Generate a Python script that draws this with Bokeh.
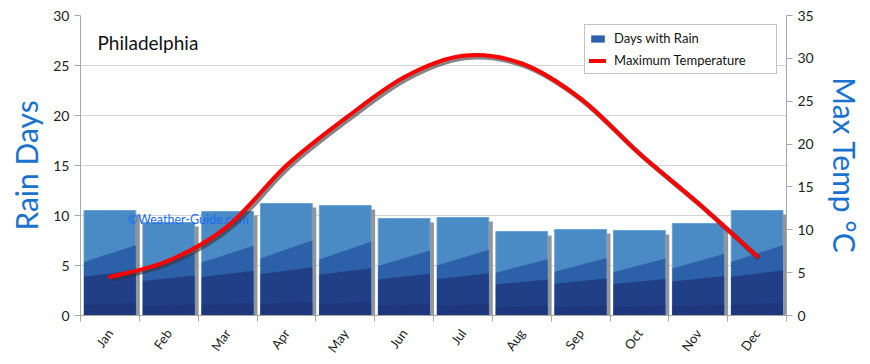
import math
from bokeh.plotting import figure
from bokeh.models import (Range1d, LinearAxis, FixedTicker, Label, Legend, LegendItem)
from bokeh.core.properties import value
from bokeh.embed import file_html
from bokeh.resources import INLINE

months = ["Jan", "Feb", "Mar", "Apr", "May", "Jun", "Jul", "Aug", "Sep", "Oct", "Nov", "Dec"]
rain_days = [10.5, 9.3, 10.4, 11.2, 11.0, 9.7, 9.8, 8.4, 8.6, 8.5, 9.2, 10.5]
max_temp = [4.5, 6.4, 10.4, 17.5, 23.0, 27.8, 30.3, 29.4, 25.3, 18.9, 13.1, 6.9]
rain_ticks = [0, 5, 10, 15, 20, 25, 30]
temp_ticks = [0, 5, 10, 15, 20, 25, 30, 35]

FONT = "Lato"
n = len(months)
xc = [i + 0.5 for i in range(n)]

p = figure(frame_width=706, frame_height=300, output_backend="svg", toolbar_location=None,
           x_range=Range1d(0, n), y_range=Range1d(0, 30),
           min_border_left=80, min_border_right=76, min_border_top=15, min_border_bottom=41)
p.extra_y_ranges = {"temp": Range1d(0, 35)}
p.outline_line_color = None
p.background_fill_color = "white"
p.border_fill_color = "white"

# grid
p.xgrid.grid_line_color = None
p.ygrid.grid_line_color = "#d4d4d4"
p.ygrid.ticker = FixedTicker(ticks=rain_ticks)

# bars
bw = 0.88
left = [x - bw / 2 for x in xc]
right = [x + bw / 2 for x in xc]
sx = 4 / 58.8   # shadow offset, x units
sy = 4 / 10.0   # shadow offset, y units
p.quad(left=[l + sx for l in left], right=[r + sx for r in right], bottom=0,
       top=[v - sy for v in rain_days], fill_color="#8a8a8a", line_color=None, fill_alpha=0.9)
bars = p.quad(left=left, right=right, bottom=0, top=rain_days,
              fill_color="#4a8ac5", line_color="#6aa2d4", line_width=1)
# shading bands
band_xs = [[l, r, r, l] for l, r in zip(left, right)]
mid_ys = [[0, 0, 0.67 * v, 0.51 * v] for v in rain_days]
mid = p.patches(band_xs, mid_ys, fill_color="#2c60a8", line_color=None)
low_ys = [[0, 0, 0.43 * v, 0.37 * v] for v in rain_days]
p.patches(band_xs, low_ys, fill_color="#213f87", line_color=None)
base_ys = [[0, 0, 0.12 * v, 0.10 * v] for v in rain_days]
p.patches(band_xs, base_ys, fill_color="#1c3377", line_color=None, fill_alpha=0.7)

# watermark (drawn over the bars, under the curve)
p.text(x=[0.80], y=[9.6], text=["©Weather-Guide.com"], text_font=value(FONT),
       text_font_size="12.5px", text_color="#1c6cf0", text_alpha=1.0,
       text_baseline="middle", text_align="left")

# smooth temperature curve (Catmull-Rom -> bezier)
pts = list(zip(xc, max_temp))
x0, y0, x1, y1, cx0, cy0, cx1, cy1 = [], [], [], [], [], [], [], []
for i in range(n - 1):
    pm = pts[i - 1] if i > 0 else pts[i]
    pa = pts[i]
    pb = pts[i + 1]
    pn = pts[i + 2] if i + 2 < n else pts[i + 1]
    x0.append(pa[0]); y0.append(pa[1]); x1.append(pb[0]); y1.append(pb[1])
    cx0.append(pa[0] + (pb[0] - pm[0]) / 6); cy0.append(pa[1] + (pb[1] - pm[1]) / 6)
    cx1.append(pb[0] - (pn[0] - pa[0]) / 6); cy1.append(pb[1] - (pn[1] - pa[1]) / 6)

ox = 2 / 58.8
oy = 2 / (300 / 35)
p.bezier(x0=[v + ox for v in x0], y0=[v - oy for v in y0], x1=[v + ox for v in x1],
         y1=[v - oy for v in y1], cx0=[v + ox for v in cx0], cy0=[v - oy for v in cy0],
         cx1=[v + ox for v in cx1], cy1=[v - oy for v in cy1],
         line_color="#333333", line_alpha=0.6, line_width=5, y_range_name="temp")
temp_line = p.bezier(x0=x0, y0=y0, x1=x1, y1=y1, cx0=cx0, cy0=cy0, cx1=cx1, cy1=cy1,
                     line_color="#ff0000", line_width=4, y_range_name="temp", line_cap="round")

# axes
ax_col = "#a8a8a8"
xa = p.xaxis[0]
xa.ticker = FixedTicker(ticks=xc, minor_ticks=list(range(n + 1)))
xa.major_label_overrides = {x: m for x, m in zip(xc, months)}
xa.major_label_orientation = 0.95
xa.major_tick_line_color = None
xa.minor_tick_line_color = ax_col
xa.minor_tick_out = 6
xa.minor_tick_in = 0
xa.axis_line_color = ax_col
xa.major_label_text_font = FONT
xa.major_label_text_font_size = "13px"
xa.major_label_text_color = "#222222"
xa.major_label_standoff = 9

for ax, label, ticks in ((p.yaxis[0], "Rain Days", rain_ticks),
                         (LinearAxis(y_range_name="temp"), "Max Temp °C", temp_ticks)):
    ax.ticker = FixedTicker(ticks=ticks)
    ax.axis_label = label
    ax.axis_label_text_font = FONT
    ax.axis_label_text_font_style = "normal"
    ax.axis_label_text_font_size = "30px"
    ax.axis_label_text_color = "#1a72d0"
    ax.axis_label_standoff = 6
    ax.axis_line_color = ax_col
    ax.major_tick_line_color = ax_col
    ax.major_tick_out = 6
    ax.major_tick_in = 0
    ax.minor_tick_line_color = None
    ax.major_label_text_font = FONT
    ax.major_label_text_font_size = "14px"
    ax.major_label_text_color = "#222222"
    if label.startswith("Max"):
        ax.axis_label_standoff = 10
        p.add_layout(ax, "right")

# title
p.add_layout(Label(x=17, y=273, x_units="screen", y_units="screen", text="Philadelphia",
                   text_font=FONT, text_font_size="19px", text_color="#111111",
                   text_baseline="middle"))

legend = Legend(items=[LegendItem(label="Days with Rain", renderers=[mid]),
                       LegendItem(label="Maximum Temperature", renderers=[temp_line])],
                location="top_right", label_text_font=FONT, label_text_font_size="13px",
                label_text_color="#111111", border_line_color="#888888",
                background_fill_alpha=1.0, glyph_width=17, glyph_height=9,
                label_height=18, label_width=158, spacing=4, padding=4, margin=9,
                label_standoff=8)
p.add_layout(legend, "center")

open("out.html", "w").write(file_html(p, INLINE))
